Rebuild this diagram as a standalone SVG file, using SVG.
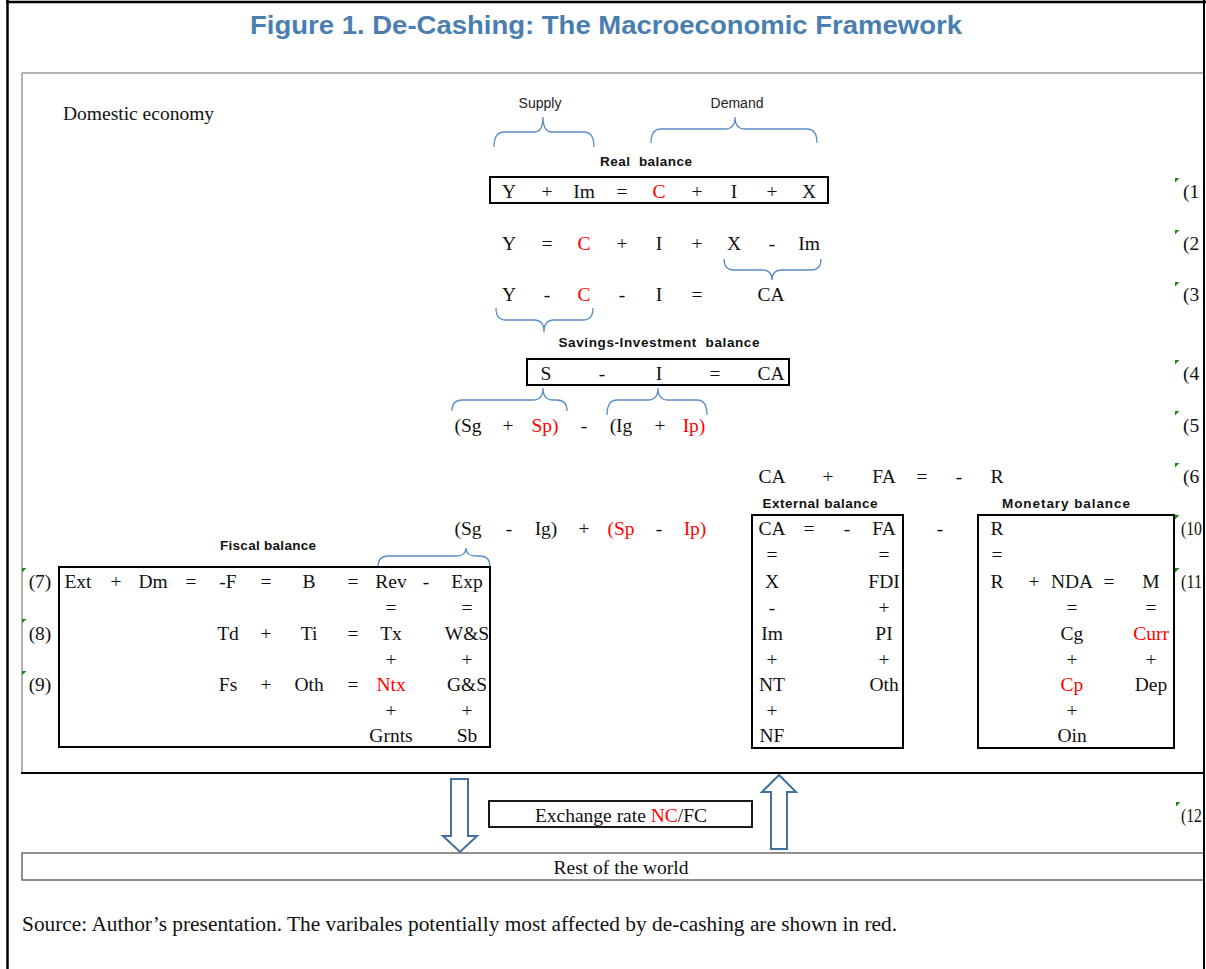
<svg xmlns="http://www.w3.org/2000/svg" width="1206" height="969" viewBox="0 0 1206 969">
<style>
.t{font-family:"Liberation Serif","Times New Roman",serif;font-size:19.5px;fill:#111;text-anchor:middle}
.l{text-anchor:start}
.r{fill:#ff0000}
.h{font-family:"Liberation Sans",Arial,sans-serif;font-size:13.5px;font-weight:bold;fill:#111;text-anchor:middle}
.s{font-family:"Liberation Sans",Arial,sans-serif;font-size:14px;fill:#222;text-anchor:middle}
.box{fill:none;stroke:#000;stroke-width:2}
.br{fill:none;stroke:#5b8cc8;stroke-width:1.3}
.arr{fill:#fff;stroke:#41709c;stroke-width:2}
.g{fill:#1a8a1a}
</style>
<defs>
<clipPath id="cp"><rect x="0" y="0" width="1203" height="969"/></clipPath>
<polygon id="tri" points="0,0 4.5,0 0,4.5" class="g"/>
</defs>
<rect width="1206" height="969" fill="#fff"/>
<text x="606" y="34" font-family="'Liberation Sans',Arial,sans-serif" font-size="25" font-weight="bold" fill="#4a7eb0" text-anchor="middle" textLength="712" lengthAdjust="spacingAndGlyphs">Figure 1. De-Cashing: The Macroeconomic Framework</text>

<g clip-path="url(#cp)">
<g id="domestic">
<line x1="22" y1="73" x2="1206" y2="73" stroke="#999" stroke-width="1.5"/>
<line x1="22" y1="73" x2="22" y2="773" stroke="#999" stroke-width="1.5"/>
<line x1="21" y1="773" x2="1206" y2="773" stroke="#000" stroke-width="2"/>
<text class="t l" x="63" y="120">Domestic economy</text>
</g>
<g id="rest-of-world">
<rect x="22" y="853" width="1190" height="27" fill="none" stroke="#555" stroke-width="1.3"/>
<text class="t" x="621" y="874">Rest of the world</text>
</g>
</g>
<g id="eq-numbers">
<use href="#tri" x="1175" y="178"/><text class="t l" x="1183" y="198">(1</text>
<use href="#tri" x="1175" y="230"/><text class="t l" x="1183" y="250">(2</text>
<use href="#tri" x="1175" y="282"/><text class="t l" x="1183" y="301">(3</text>
<use href="#tri" x="1175" y="360"/><text class="t l" x="1183" y="380">(4</text>
<use href="#tri" x="1175" y="411"/><text class="t l" x="1183" y="432">(5</text>
<use href="#tri" x="1175" y="463"/><text class="t l" x="1183" y="483">(6</text>
<use href="#tri" x="1175" y="515"/><text class="t l" x="1181" y="535" textLength="21" lengthAdjust="spacingAndGlyphs">(10</text>
<use href="#tri" x="1175" y="568"/><text class="t l" x="1181" y="588" textLength="21" lengthAdjust="spacingAndGlyphs">(11</text>
<use href="#tri" x="1176" y="802"/><text class="t l" x="1181" y="822" textLength="21" lengthAdjust="spacingAndGlyphs">(12</text>
</g>

<g id="connectors">
<path class="br" d="M494,147 Q494,132 504,132 L534,132 Q543,132 543,117 Q543,132 552,132 L584,132 Q594,132 594,147"/>
<path class="br" d="M651,143 Q651,129 661,129 L725,129 Q735,129 735,117 Q735,129 745,129 L807,129 Q817,129 817,143"/>
<path class="br" d="M724,259 Q724,270 734,270 L762,270 Q772,270 772,280 Q772,270 782,270 L811,270 Q821,270 821,259"/>
<path class="br" d="M496,308 Q496,320 506,320 L534,320 Q544,320 544,332 Q544,320 554,320 L583,320 Q593,320 593,308"/>
<path class="br" d="M452,411 Q452,400 462,400 L533,400 Q543,400 543,388 Q543,400 553,400 L557,400 Q567,400 567,411"/>
<path class="br" d="M607,415 Q607,400 617,400 L648,400 Q658,400 658,388 Q658,400 668,400 L697,400 Q707,400 707,415"/>
<path class="br" d="M378,567 Q378,556 388,556 L456,556 Q466,556 466,548 Q466,556 476,556 L480,556 Q490,556 490,567"/>
<path class="arr" d="M451,779 L468,779 L468,836 L477,836 L460,852 L443,836 L451,836 Z"/>
<path class="arr" d="M771,849 L787,849 L787,792 L796,792 L779,775 L762,792 L771,792 Z"/>
</g>

<g id="labels">
<text class="s" x="540" y="108">Supply</text>
<text class="s" x="737" y="108">Demand</text>
</g>

<g id="real-balance">
<text class="h" x="646" y="166" xml:space="preserve" textLength="92">Real  balance</text>
<rect class="box" x="490" y="177" width="338" height="26"/>
<text class="t" x="509" y="198">Y</text><text class="t" x="547" y="198">+</text><text class="t" x="584" y="198">Im</text><text class="t" x="622" y="198">=</text><text class="t r" x="659" y="198">C</text><text class="t" x="697" y="198">+</text><text class="t" x="734" y="198">I</text><text class="t" x="772" y="198">+</text><text class="t" x="809" y="198">X</text>
</g>

<g id="eq2">
<text class="t" x="509" y="250">Y</text><text class="t" x="547" y="250">=</text><text class="t r" x="584" y="250">C</text><text class="t" x="622" y="250">+</text><text class="t" x="659" y="250">I</text><text class="t" x="697" y="250">+</text><text class="t" x="734" y="250">X</text><text class="t" x="772" y="250">-</text><text class="t" x="809" y="250">Im</text>
</g>
<g id="eq3">
<text class="t" x="509" y="301">Y</text><text class="t" x="547" y="301">-</text><text class="t r" x="584" y="301">C</text><text class="t" x="622" y="301">-</text><text class="t" x="659" y="301">I</text><text class="t" x="697" y="301">=</text><text class="t" x="771" y="301">CA</text>
</g>

<g id="si-balance">
<text class="h" x="659" y="347" xml:space="preserve" textLength="201">Savings-Investment  balance</text>
<rect class="box" x="527" y="359" width="262" height="26"/>
<text class="t" x="546" y="380">S</text><text class="t" x="602" y="380">-</text><text class="t" x="659" y="380">I</text><text class="t" x="715" y="380">=</text><text class="t" x="771" y="380">CA</text>
</g>

<g id="eq5">
<text class="t" x="468" y="432">(Sg</text><text class="t" x="508" y="432">+</text><text class="t r" x="545" y="432">Sp)</text><text class="t" x="584" y="432">-</text><text class="t" x="621" y="432">(Ig</text><text class="t" x="660" y="432">+</text><text class="t r" x="694" y="432">Ip)</text>
</g>

<g id="eq6">
<text class="t" x="772" y="483">CA</text><text class="t" x="828" y="483">+</text><text class="t" x="884" y="483">FA</text><text class="t" x="922" y="483">=</text><text class="t" x="959" y="483">-</text><text class="t" x="997" y="483">R</text>
</g>

<g id="eq-sgig">
<text class="t" x="468" y="535">(Sg</text><text class="t" x="509" y="535">-</text><text class="t" x="546" y="535">Ig)</text><text class="t" x="584" y="535">+</text><text class="t r" x="621" y="535">(Sp</text><text class="t" x="659" y="535">-</text><text class="t r" x="695" y="535">Ip)</text>
</g>

<g id="fiscal-balance">
<text class="h" x="268" y="550" textLength="96">Fiscal balance</text>
<rect class="box" x="59" y="567" width="431" height="180"/>
<use href="#tri" x="22" y="568"/><use href="#tri" x="22" y="619"/><use href="#tri" x="22" y="671"/>
<text class="t" x="40" y="588">(7)</text><text class="t" x="78" y="588">Ext</text><text class="t" x="116" y="588">+</text><text class="t" x="153" y="588">Dm</text><text class="t" x="191" y="588">=</text><text class="t" x="228" y="588">-F</text><text class="t" x="266" y="588">=</text><text class="t" x="309" y="588">B</text><text class="t" x="353" y="588">=</text><text class="t" x="391" y="588">Rev</text><text class="t" x="426" y="588">-</text><text class="t" x="467" y="588">Exp</text>
<text class="t" x="391" y="614">=</text><text class="t" x="467" y="614">=</text>
<text class="t" x="40" y="640">(8)</text><text class="t" x="228" y="640">Td</text><text class="t" x="266" y="640">+</text><text class="t" x="309" y="640">Ti</text><text class="t" x="353" y="640">=</text><text class="t" x="391" y="640">Tx</text><text class="t" x="467" y="640">W&amp;S</text>
<text class="t" x="391" y="666">+</text><text class="t" x="467" y="666">+</text>
<text class="t" x="40" y="691">(9)</text><text class="t" x="228" y="691">Fs</text><text class="t" x="266" y="691">+</text><text class="t" x="309" y="691">Oth</text><text class="t" x="353" y="691">=</text><text class="t r" x="391" y="691">Ntx</text><text class="t" x="467" y="691">G&amp;S</text>
<text class="t" x="391" y="717">+</text><text class="t" x="467" y="717">+</text>
<text class="t" x="391" y="742">Grnts</text><text class="t" x="467" y="742">Sb</text>
</g>

<g id="external-balance">
<text class="h" x="820" y="508" textLength="115">External balance</text>
<rect class="box" x="752" y="515" width="151" height="233"/>
<text class="t" x="772" y="535">CA</text><text class="t" x="809" y="535">=</text><text class="t" x="847" y="535">-</text><text class="t" x="884" y="535">FA</text>
<text class="t" x="772" y="561">=</text><text class="t" x="884" y="561">=</text>
<text class="t" x="772" y="588">X</text><text class="t" x="884" y="588">FDI</text>
<text class="t" x="772" y="614">-</text><text class="t" x="884" y="614">+</text>
<text class="t" x="772" y="640">Im</text><text class="t" x="884" y="640">PI</text>
<text class="t" x="772" y="666">+</text><text class="t" x="884" y="666">+</text>
<text class="t" x="772" y="691">NT</text><text class="t" x="884" y="691">Oth</text>
<text class="t" x="772" y="717">+</text>
<text class="t" x="772" y="742">NF</text>
</g>
<text class="t" x="940" y="535">-</text>

<g id="monetary-balance">
<text class="h" x="1066" y="508" textLength="128">Monetary balance</text>
<rect class="box" x="978" y="515" width="196" height="233"/>
<text class="t" x="997" y="535">R</text>
<text class="t" x="997" y="561">=</text>
<text class="t" x="997" y="588">R</text><text class="t" x="1034" y="588">+</text><text class="t" x="1072" y="588">NDA</text><text class="t" x="1109" y="588">=</text><text class="t" x="1151" y="588">M</text>
<text class="t" x="1072" y="614">=</text><text class="t" x="1151" y="614">=</text>
<text class="t" x="1072" y="640">Cg</text><text class="t r" x="1151" y="640">Curr</text>
<text class="t" x="1072" y="666">+</text><text class="t" x="1151" y="666">+</text>
<text class="t r" x="1072" y="691">Cp</text><text class="t" x="1151" y="691">Dep</text>
<text class="t" x="1072" y="717">+</text>
<text class="t" x="1072" y="742">Oin</text>
</g>

<g id="exchange-rate">
<rect x="489" y="801" width="263" height="26" fill="none" stroke="#000" stroke-width="1.8"/>
<text class="t" x="621" y="822">Exchange rate <tspan class="r">NC</tspan>/FC</text>
</g>

<text class="t l" x="22" y="931" style="font-size:20.5px" textLength="875" lengthAdjust="spacingAndGlyphs">Source: Author’s presentation. The varibales potentially most affected by de-cashing are shown in red.</text>

<g id="frame">
<rect x="1203" y="0" width="3" height="969" fill="#fff"/>
<line x1="7.5" y1="0" x2="7.5" y2="969" stroke="#000" stroke-width="2.5"/>
<line x1="6" y1="2" x2="1206" y2="2" stroke="#000" stroke-width="2.5"/>
<line x1="1204" y1="0" x2="1204" y2="969" stroke="#000" stroke-width="2"/>
</g>
</svg>
